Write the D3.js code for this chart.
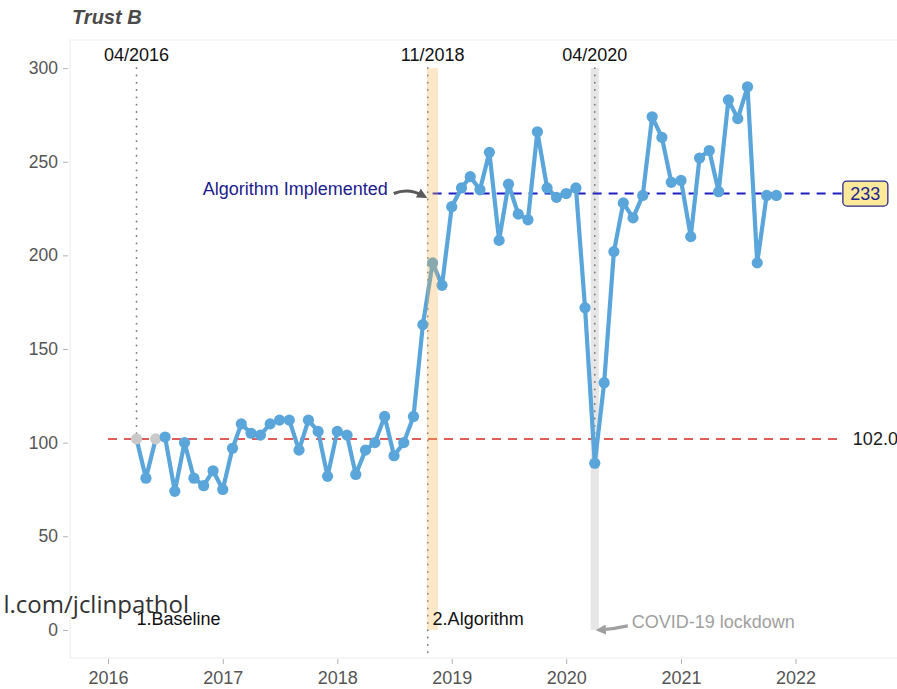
<!DOCTYPE html>
<html>
<head>
<meta charset="utf-8">
<script src="https://cdn.jsdelivr.net/npm/d3@7"></script>
<style>
  html, body { margin: 0; padding: 0; background: #fff; }
  svg { display: block; font-family: "Liberation Sans", Arial, sans-serif; }
</style>
</head>
<body>
<svg id="chart" width="897" height="689"></svg>
<script>
// Monthly counts, Trust B, April 2016 - November 2021
const months = [
  "2016-04","2016-05","2016-06","2016-07","2016-08","2016-09","2016-10","2016-11","2016-12",
  "2017-01","2017-02","2017-03","2017-04","2017-05","2017-06","2017-07","2017-08","2017-09","2017-10","2017-11","2017-12",
  "2018-01","2018-02","2018-03","2018-04","2018-05","2018-06","2018-07","2018-08","2018-09","2018-10","2018-11","2018-12",
  "2019-01","2019-02","2019-03","2019-04","2019-05","2019-06","2019-07","2019-08","2019-09","2019-10","2019-11","2019-12",
  "2020-01","2020-02","2020-03","2020-04","2020-05","2020-06","2020-07","2020-08","2020-09","2020-10","2020-11","2020-12",
  "2021-01","2021-02","2021-03","2021-04","2021-05","2021-06","2021-07","2021-08","2021-09","2021-10","2021-11"
];
const counts = [
  102, 81, 102, 103, 74, 100, 81, 77, 85,
  75, 97, 110, 105, 104, 110, 112, 112, 96, 112, 106, 82,
  106, 104, 83, 96, 100, 114, 93, 100, 114, 163, 196, 184,
  226, 236, 242, 235, 255, 208, 238, 222, 219, 266, 236, 231,
  233, 236, 172, 89, 132, 202, 228, 220, 232, 274, 263, 239,
  240, 210, 252, 256, 234, 283, 273, 290, 196, 232, 232
];
// months with no recorded value, shown at the baseline median
const imputed = ["2016-04", "2016-06"];

const phaseNames = ["1.Baseline", "2.Algorithm"];
const phaseStarts = ["2016-04", "2018-11"];
const phaseMedians = [102.0, 233];

const eventMonths = ["2016-04", "2018-11", "2020-04"];
const eventLabels = ["04/2016", "11/2018", "04/2020"];

const yTicks = [0, 50, 100, 150, 200, 250, 300];
const xTickYears = [2016, 2017, 2018, 2019, 2020, 2021, 2022];

const parseMonth = d3.timeParse("%Y-%m");
const data = months.map((m, i) => ({ date: parseMonth(m), value: counts[i], imputed: imputed.includes(m) }));

const svg = d3.select("#chart");
const panel = { left: 70, top: 40, right: 900, bottom: 658 };

const x = d3.scaleTime()
  .domain([new Date(2016, 0, 1), new Date(2022, 0, 1)])
  .range([108, 795.5]);
const y = d3.scaleLinear().domain([-15, 315]).range([panel.bottom, panel.top]);

const textCol = "#555555";
const lineCol = "#5aa5da";
const fs = 18;

// panel outline
svg.append("rect")
  .attr("x", panel.left).attr("y", panel.top)
  .attr("width", panel.right - panel.left).attr("height", panel.bottom - panel.top)
  .attr("fill", "none").attr("stroke", "#ececec").attr("stroke-width", 1);

// title
svg.append("text")
  .attr("x", 72).attr("y", 24)
  .attr("font-size", 20).attr("font-weight", "bold").attr("font-style", "italic")
  .attr("fill", "#4a4a4a").text("Trust B");

// y axis
const yAxis = svg.append("g").attr("transform", `translate(${panel.left - 2},0)`)
  .call(d3.axisLeft(y).tickValues(yTicks).tickSize(5).tickPadding(5));
yAxis.select(".domain").remove();
yAxis.selectAll("line").attr("stroke", "#b0b0b0");
yAxis.selectAll("text").attr("font-size", 17.5).attr("fill", textCol).attr("font-family", "Liberation Sans, Arial, sans-serif");

// x axis
const xAxis = svg.append("g").attr("transform", `translate(0,${panel.bottom + 1})`)
  .call(d3.axisBottom(x).tickValues(xTickYears.map(yr => new Date(yr, 0, 1)))
    .tickFormat(d3.timeFormat("%Y")).tickSize(5).tickPadding(7));
xAxis.select(".domain").remove();
xAxis.selectAll("line").attr("stroke", "#b0b0b0");
xAxis.selectAll("text").attr("font-size", 18).attr("fill", textCol).attr("font-family", "Liberation Sans, Arial, sans-serif");

const byMonth = m => data[months.indexOf(m)];
const lockdown = byMonth("2020-04");
const algo = byMonth("2018-11");
const d3offset = (d, days) => d3.timeDay.offset(d, days);

// COVID-19 lockdown band
svg.append("rect")
  .attr("x", x(d3offset(lockdown.date, -13))).attr("y", y(300))
  .attr("width", x(d3offset(lockdown.date, 13)) - x(d3offset(lockdown.date, -13)))
  .attr("height", y(0) - y(300))
  .attr("fill", "#e6e6e6");

// median lines per phase
const medianEnd = new Date(2022, 5, 1);
svg.append("line")
  .attr("x1", x(new Date(2016, 0, 1))).attr("x2", x(medianEnd))
  .attr("y1", y(phaseMedians[0])).attr("y2", y(phaseMedians[0]))
  .attr("stroke", "#e25b5b").attr("stroke-width", 2).attr("stroke-dasharray", "9,7");
svg.append("line")
  .attr("x1", x(parseMonth(phaseStarts[1]))).attr("x2", x(medianEnd))
  .attr("y1", y(phaseMedians[1])).attr("y2", y(phaseMedians[1]))
  .attr("stroke", "#1f1fc4").attr("stroke-width", 2).attr("stroke-dasharray", "9,7");

// event markers (dotted)
const dotted = { stroke: "#7a7a7a", "stroke-width": 1.8, "stroke-dasharray": "0.1,7.2", "stroke-linecap": "round" };
function vline(xp, y1, y2) {
  const l = svg.append("line").attr("x1", xp).attr("x2", xp).attr("y1", y1).attr("y2", y2);
  Object.entries(dotted).forEach(([k, v]) => l.attr(k, v));
}
const first = byMonth(eventMonths[0]);
vline(x(first.date), y(300), y(first.value));
vline(x(lockdown.date), y(300), y(lockdown.value));
const prevAlgo = byMonth("2018-10");
const phaseSplit = (x(prevAlgo.date) + x(algo.date)) / 2;
vline(phaseSplit, y(300), panel.bottom);

// series
svg.append("path")
  .datum(data)
  .attr("fill", "none").attr("stroke", lineCol).attr("stroke-width", 4.2)
  .attr("stroke-linejoin", "round")
  .attr("d", d3.line().x(d => x(d.date)).y(d => y(d.value)));
svg.selectAll("circle.pt").data(data).join("circle")
  .attr("class", "pt")
  .attr("cx", d => x(d.date)).attr("cy", d => y(d.value)).attr("r", 5.6)
  .attr("fill", d => d.imputed ? "#c9c9c9" : lineCol);

// algorithm band (translucent, over the series)
svg.append("rect")
  .attr("x", x(d3offset(algo.date, -18))).attr("y", y(300))
  .attr("width", x(d3offset(algo.date, 17)) - x(d3offset(algo.date, -18)))
  .attr("height", y(0) - y(300))
  .attr("fill", "#f4b44a").attr("opacity", 0.3);

// event labels at the top
eventMonths.forEach((m, i) => {
  svg.append("text")
    .attr("x", x(parseMonth(m))).attr("y", 61)
    .attr("text-anchor", "middle").attr("font-size", fs).attr("fill", "#111")
    .text(eventLabels[i]);
});

// phase labels
phaseNames.forEach((p, i) => {
  svg.append("text")
    .attr("x", x(parseMonth(phaseStarts[i]))).attr("y", y(0) - 5)
    .attr("font-size", fs).attr("fill", "#111")
    .text(p);
});

// median value labels
svg.append("text")
  .attr("x", x(medianEnd) + 10).attr("y", y(phaseMedians[0]) + 6)
  .attr("font-size", fs).attr("fill", "#1a1a1a")
  .text(phaseMedians[0].toFixed(1));
const boxX = x(medianEnd), boxY = y(phaseMedians[1]);
svg.append("rect")
  .attr("x", boxX).attr("y", boxY - 12.5).attr("width", 45).attr("height", 25).attr("rx", 4)
  .attr("fill", "#fde99a").attr("stroke", "#2a2a8a").attr("stroke-width", 1.3);
svg.append("text")
  .attr("x", boxX + 22.5).attr("y", boxY + 6.5).attr("text-anchor", "middle")
  .attr("font-size", fs).attr("fill", "#23238f")
  .text(phaseMedians[1]);

// arrowheads
const defs = svg.append("defs");
function marker(id, col) {
  defs.append("marker").attr("id", id)
    .attr("viewBox", "0 0 10 10").attr("refX", 5).attr("refY", 5)
    .attr("markerWidth", 3.2).attr("markerHeight", 3.2).attr("orient", "auto")
    .append("path").attr("d", "M0,0 L10,5 L0,10 Z").attr("fill", col);
}
marker("arrDark", "#5a5a5a");
marker("arrLight", "#a0a0a0");

// "Algorithm Implemented" callout
const ax1 = phaseSplit - 34, ax2 = phaseSplit - 5, ay = y(phaseMedians[1]) + 1;
svg.append("path")
  .attr("d", `M${ax1},${ay - 1} Q${(ax1 + ax2) / 2},${ay - 7} ${ax2},${ay + 1}`)
  .attr("fill", "none").attr("stroke", "#5a5a5a").attr("stroke-width", 3.2)
  .attr("marker-end", "url(#arrDark)");
svg.append("text")
  .attr("x", ax1 - 6).attr("y", ay)
  .attr("text-anchor", "end").attr("font-size", fs).attr("fill", "#1c1c8c")
  .text("Algorithm Implemented");

// COVID-19 lockdown callout
const cx1 = x(lockdown.date) + 33, cx2 = x(lockdown.date) + 6, cy = y(0);
svg.append("path")
  .attr("d", `M${cx1},${cy - 4} Q${(cx1 + cx2) / 2},${cy - 1} ${cx2},${cy}`)
  .attr("fill", "none").attr("stroke", "#a0a0a0").attr("stroke-width", 3.2)
  .attr("marker-end", "url(#arrLight)");
svg.append("text")
  .attr("x", cx1 + 4).attr("y", cy - 2)
  .attr("font-size", fs).attr("fill", "#a0a0a0")
  .text("COVID-19 lockdown");

// journal credit line
svg.append("text")
  .attr("x", 189).attr("y", 613).attr("text-anchor", "end")
  .attr("font-family", "Open Sans, sans-serif").attr("font-size", 24).attr("fill", "#333")
  .text("l.com/jclinpathol");
</script>
</body>
</html>
